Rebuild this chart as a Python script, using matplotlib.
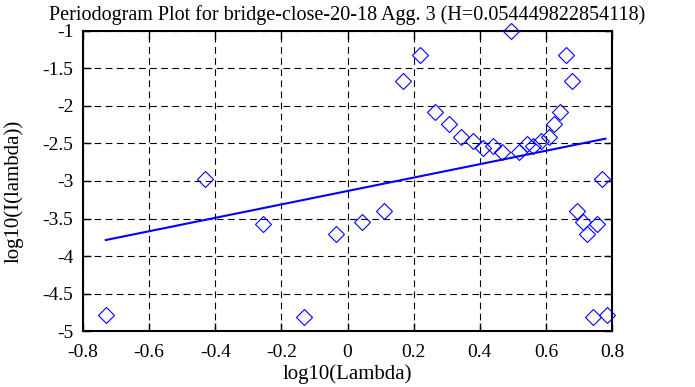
import numpy as np
import matplotlib
matplotlib.use("Agg")
import matplotlib.pyplot as plt
from matplotlib.ticker import FuncFormatter

# valores
log_lambda = [-0.731, -0.431, -0.257, -0.131, -0.035, 0.043, 0.111, 0.169,
              0.218, 0.266, 0.306, 0.343, 0.379, 0.411, 0.441, 0.468, 0.495,
              0.518, 0.542, 0.562, 0.584, 0.610, 0.626, 0.644, 0.662, 0.679,
              0.695, 0.711, 0.725, 0.742, 0.756, 0.770, 0.784]
log_I = [-4.787, -2.973, -3.573, -4.818, -3.703, -3.542, -3.396, -1.667,
         -1.324, -2.084, -2.240, -2.418, -2.462, -2.556, -2.533, -2.609, -1.000,
         -2.609, -2.507, -2.533, -2.462, -2.418, -2.244, -2.084, -1.324, -1.667,
         -3.396, -3.542, -3.703, -4.818, -3.573, -2.973, -4.787]

# reta ajustada (extremos)
fit_x = [-0.731, 0.780]
fit_y = [-3.787, -2.436]

titulo = "Periodogram Plot for bridge-close-20-18 Agg. 3 (H=0.054449822854118)"

plt.rcParams['font.family'] = ['Liberation Serif', 'DejaVu Serif']
plt.rcParams['axes.unicode_minus'] = False

fig = plt.figure(figsize=(6.95, 3.87), dpi=100)
ax = fig.add_axes([0.1194, 0.1447, 0.7612, 0.7752])

ax.plot(log_lambda, log_I, linestyle='none', marker='D', markersize=8,
        markerfacecolor='none', markeredgecolor='blue', markeredgewidth=0.8,
        clip_on=False, zorder=3)
ax.plot(fit_x, fit_y, color='blue', linewidth=1.5, zorder=2)

ax.set_xlim(-0.8, 0.8)
ax.set_ylim(-5, -1)
ax.set_xticks(np.arange(-0.8, 0.81, 0.2))
ax.set_yticks(np.arange(-5, -0.99, 0.5))
fmt = FuncFormatter(lambda v, p: '%g' % round(v, 2) if abs(v) > 1e-9 else '0')
ax.xaxis.set_major_formatter(fmt)
ax.yaxis.set_major_formatter(fmt)

ax.grid(True, color='black', linestyle=(0, (6, 4)), linewidth=0.8)
ax.tick_params(direction='in', length=6, width=1, top=True, right=True,
               labelsize=14, colors='black')
ax.tick_params(axis='x', pad=9)
ax.tick_params(axis='y', pad=7)
for s in ax.spines.values():
    s.set_linewidth(1.5)

ax.set_title(titulo, fontsize=14.5, pad=8)
ax.set_xlabel('log10(Lambda)', fontsize=15, labelpad=3)
ax.set_ylabel('log10(I(lambda))', fontsize=15)
ax.yaxis.set_label_coords(-0.112, 0.467)

fig.savefig('out.png', dpi=100)
